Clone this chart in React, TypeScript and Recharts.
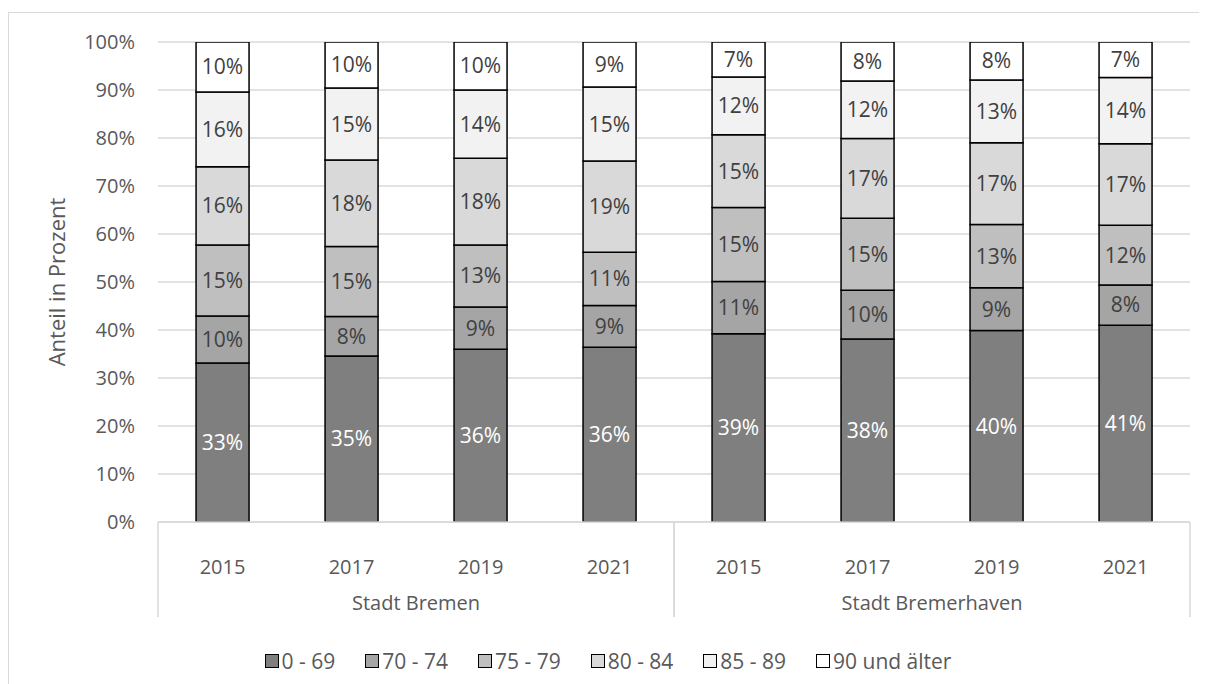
import React from 'react';
import { BarChart, Bar, XAxis, YAxis, CartesianGrid, LabelList, Label } from 'recharts';

const FONT = '"Open Sans", "Noto Sans", sans-serif';
const TEXT = '#595959';
const GRID = '#d9d9d9';

const regions = ['Stadt Bremen', 'Stadt Bremerhaven'];
const years = ['2015', '2017', '2019', '2021'];
const seriesNames = ['0 - 69', '70 - 74', '75 - 79', '80 - 84', '85 - 89', '90 und älter'];
const seriesColors = ['#7f7f7f', '#a5a5a5', '#bfbfbf', '#d9d9d9', '#f2f2f2', '#ffffff'];
const labelColors = ['#ffffff', '#404040', '#404040', '#404040', '#404040', '#404040'];
const yTicks = [0, 10, 20, 30, 40, 50, 60, 70, 80, 90, 100];

// order: Bremen 2015, 2017, 2019, 2021, Bremerhaven 2015, 2017, 2019, 2021
const age0to69 = [33.1, 34.6, 36.0, 36.4, 39.2, 38.1, 39.9, 41.0];
const age70to74 = [9.8, 8.2, 8.8, 8.7, 10.9, 10.2, 8.9, 8.4];
const age75to79 = [14.8, 14.6, 12.9, 11.1, 15.4, 15.0, 13.2, 12.4];
const age80to84 = [16.3, 18.0, 18.1, 19.0, 15.2, 16.6, 17.0, 17.0];
const age85to89 = [15.6, 15.0, 14.2, 15.4, 12.0, 12.0, 13.1, 13.8];
const age90plus = [10.4, 9.6, 10.0, 9.4, 7.3, 8.1, 7.9, 7.4];

const seriesValues = [age0to69, age70to74, age75to79, age80to84, age85to89, age90plus];
const seriesKeys = ['s0', 's1', 's2', 's3', 's4', 's5'];

const data: any[] = [];
regions.forEach((region, r) => {
  years.forEach((year, y) => {
    const idx = r * years.length + y;
    const row: any = { key: `${region}-${year}`, region, year };
    seriesKeys.forEach((k, s) => {
      row[k] = seriesValues[s][idx];
    });
    data.push(row);
  });
});

const CHART_W = 1198;
const CHART_H = 671;
const Y_AXIS_W = 149;
const MARGIN = { top: 29, right: 17, left: 0, bottom: 62 };
const X_AXIS_H = 100;
const PLOT_W = CHART_W - MARGIN.left - MARGIN.right - Y_AXIS_W;
const FS = 20;
const FS_LABEL = 21;
const FS_LEGEND = 21;
const FS_TITLE = 22;

const XTick = (props: any) => {
  const { x, y, index, payload } = props;
  const i = typeof index === 'number' ? index : payload.index;
  const bw = PLOT_W / data.length;
  const perGroup = years.length;
  const row = data[i];
  const pos = i % perGroup;
  return (
    <g>
      <text x={x} y={y + 44} textAnchor="middle" dominantBaseline="central" fill={TEXT} fontSize={FS} fontFamily={FONT}>
        {row ? row.year : ''}
      </text>
      {pos === 0 && <line x1={x - bw / 2} x2={x - bw / 2} y1={y} y2={y + 95} stroke={GRID} strokeWidth={1.5} />}
      {pos === perGroup - 1 && <line x1={x + bw / 2} x2={x + bw / 2} y1={y} y2={y + 95} stroke={GRID} strokeWidth={1.5} />}
      {pos === perGroup / 2 - 1 && (
        <text x={x + bw / 2} y={y + 80} textAnchor="middle" dominantBaseline="central" fill={TEXT} fontSize={FS} fontFamily={FONT}>
          {row ? row.region : ''}
        </text>
      )}
    </g>
  );
};

const YLabel = (props: any) => {
  const vb = props.viewBox || {};
  const cy = vb.y !== undefined && vb.height !== undefined ? vb.y + vb.height / 2 : MARGIN.top + 240;
  const cx = 47;
  return (
    <text x={cx} y={cy} transform={`rotate(-90, ${cx}, ${cy})`} textAnchor="middle" dominantBaseline="central" fill={TEXT} fontSize={FS_TITLE} fontFamily={FONT}>
      Anteil in Prozent
    </text>
  );
};

export default function App() {
  return (
    <div style={{ paddingTop: 4 }}>
      <div
        style={{
          width: 1199,
          height: 672,
          borderTop: `1px solid ${GRID}`,
          borderLeft: `1px solid ${GRID}`,
          boxSizing: 'border-box',
          position: 'relative',
          fontFamily: FONT,
        }}
      >
        <BarChart width={CHART_W} height={CHART_H} data={data} margin={MARGIN} barCategoryGap="29.5%">
          <CartesianGrid vertical={false} stroke={GRID} strokeWidth={1.5} />
          <XAxis
            dataKey="key"
            height={X_AXIS_H}
            interval={0}
            tickLine={false}
            tickSize={0}
            tickMargin={0}
            axisLine={{ stroke: GRID, strokeWidth: 1.5 }}
            tick={<XTick />}
          />
          <YAxis
            width={Y_AXIS_W}
            domain={[0, 100]}
            allowDataOverflow
            ticks={yTicks}
            interval={0}
            tickFormatter={(v: number) => `${v}%`}
            axisLine={false}
            tickLine={false}
            tickSize={6}
            tickMargin={17}
            tick={{ fill: TEXT, fontSize: FS, fontFamily: FONT }}
          >
            <Label content={<YLabel />} />
          </YAxis>
          {seriesKeys.map((k, s) => (
            <Bar
              key={k}
              dataKey={k}
              name={seriesNames[s]}
              stackId="a"
              fill={seriesColors[s]}
              stroke="#000000"
              strokeWidth={1.5}
              isAnimationActive={false}
            >
              <LabelList
                dataKey={k}
                position="center"
                formatter={(v: any) => `${Math.round(Number(v))}%`}
                fill={labelColors[s]}
                fontSize={FS_LABEL}
                fontFamily={FONT}
              />
            </Bar>
          ))}
        </BarChart>
        <div
          style={{
            position: 'absolute',
            top: 634,
            left: 0,
            width: CHART_W,
            height: 28,
            display: 'flex',
            justifyContent: 'center',
            alignItems: 'center',
            gap: 30,
            fontSize: FS_LEGEND,
            color: TEXT,
            fontFamily: FONT,
          }}
        >
          {seriesNames.map((n, s) => (
            <div key={n} style={{ display: 'flex', alignItems: 'center' }}>
              <span
                style={{
                  display: 'inline-block',
                  width: 14,
                  height: 14,
                  boxSizing: 'border-box',
                  border: '1.5px solid #000',
                  background: seriesColors[s],
                  marginRight: 3,
                }}
              />
              <span>{n}</span>
            </div>
          ))}
        </div>
      </div>
    </div>
  );
}
